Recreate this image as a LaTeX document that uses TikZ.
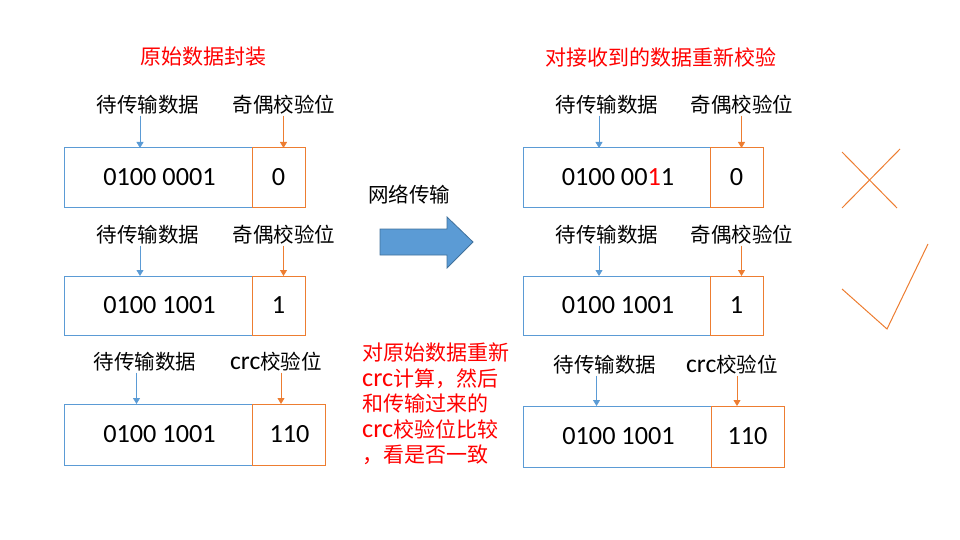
\documentclass[tikz,border=0pt]{standalone}
\usepackage{fontspec}
\setmainfont{Carlito}[Scale=1.25]
\newfontfamily\zh{Noto Sans CJK SC}
\usetikzlibrary{arrows.meta, positioning, calc}
\definecolor{ofBlue}{HTML}{5B9BD5}
\definecolor{ofOrange}{HTML}{ED7D31}
\definecolor{ofEdge}{HTML}{41719C}
\newcommand{\lat}[1]{{\rmfamily #1}}

\begin{document}
\begin{tikzpicture}[
  x=1pt, y=-1pt,
  datbox/.style={draw=ofBlue, line width=1pt, outer sep=0pt, inner sep=0pt,
                 minimum width=188pt, minimum height=59pt, font=\fontsize{21}{25}\selectfont},
  parbox/.style={draw=ofOrange, line width=1pt, outer sep=0pt, inner sep=0pt,
                 minimum width=53pt, minimum height=59pt, font=\fontsize{21}{25}\selectfont},
  crcbox/.style={parbox, minimum width=73pt, minimum height=61pt},
  lbl/.style={font=\zh\fontsize{20.5}{24}\selectfont, inner sep=1pt},
  ttl/.style={font=\zh\fontsize{21}{25}\selectfont, text=red},
  note/.style={font=\zh\fontsize{21}{25.5}\selectfont, text=red, align=left, inner sep=0pt},
  arrb/.style={-{Triangle[length=6pt,width=7pt]}, draw=ofBlue, line width=0.8pt},
  arro/.style={-{Triangle[length=6pt,width=7pt]}, draw=ofOrange, line width=0.8pt},
  tick/.style={draw=ofOrange, line width=1pt},
]
\useasboundingbox (0,0) rectangle (960,540);

% ---- titles ----
\node[ttl] (ltitle) at (203,57) {原始数据封装};
\node[ttl] (rtitle) at (661,57) {对接收到的数据重新校验};

% ---- left: packed data ----
\node[datbox, anchor=north west] (ld1) at (64,148) {\hspace{3pt}0100 0001};
\node[parbox, right=0pt of ld1] (lp1) {0};
\node[datbox, anchor=north west] (ld2) at (64,276) {\hspace{3pt}0100 1001};
\node[parbox, right=0pt of ld2] (lp2) {1};
\node[datbox, anchor=north west, minimum height=61pt] (ld3) at (64,404) {\hspace{3pt}0100 1001};
\node[crcbox, right=0pt of ld3] (lp3) {\hspace{2pt}110};

\node[lbl] (ldl1) at (148,105) {待传输数据};
\node[lbl] (lpl1) at (284,105) {奇偶校验位};
\node[lbl] (ldl2) at (148,235) {待传输数据};
\node[lbl] (lpl2) at (284,235) {奇偶校验位};
\node[lbl] (ldl3) at (145,362) {待传输数据};
\node[lbl] (lpl3) at (276,362) {\lat{crc}校验位};

% ---- right: received data ----
\node[datbox, anchor=north west, minimum width=187pt] (rd1) at (523,148) {\hspace{3pt}0100 00\textcolor{red}{1}1};
\node[parbox, right=0pt of rd1] (rp1) {0};
\node[datbox, anchor=north west, minimum width=187pt] (rd2) at (523,276) {\hspace{3pt}0100 1001};
\node[parbox, right=0pt of rd2] (rp2) {1};
\node[datbox, anchor=north west, minimum height=61pt] (rd3) at (523,406) {\hspace{3pt}0100 1001};
\node[crcbox, right=0pt of rd3] (rp3) {110};

\node[lbl] (rdl1) at (607,105) {待传输数据};
\node[lbl] (rpl1) at (742,105) {奇偶校验位};
\node[lbl] (rdl2) at (607,235) {待传输数据};
\node[lbl] (rpl2) at (742,235) {奇偶校验位};
\node[lbl] (rdl3) at (605,365) {待传输数据};
\node[lbl] (rpl3) at (732,365) {\lat{crc}校验位};

% ---- arrows from labels ----
\foreach \d/\b in {ldl1/ld1, ldl2/ld2, rdl1/rd1, rdl2/rd2}
  \draw[arrb] ([xshift=-8pt]\d.south) -- ([xshift=-8pt]\d.south |- \b.north);
\foreach \d/\b in {ldl3/ld3, rdl3/rd3}
  \draw[arrb] ([xshift=-8.5pt]\d.south) -- ([xshift=-8.5pt]\d.south |- \b.north);
\foreach \p/\b in {lpl1/lp1, lpl2/lp2, rpl1/rp1, rpl2/rp2}
  \draw[arro] ([xshift=-0.5pt]\p.south) -- ([xshift=-0.5pt]\p.south |- \b.north);
\foreach \p/\b in {lpl3/lp3, rpl3/rp3}
  \draw[arro] ([xshift=5pt]\p.south) -- ([xshift=5pt]\p.south |- \b.north);

% ---- transfer ----
\node[lbl] (net) at (409,195) {网络传输};
\draw[fill=ofBlue, draw=ofEdge, line width=0.8pt]
  (380,229) -- (447,229) -- (447,217) -- (473,242) -- (447,268) -- (447,255) -- (380,255) -- cycle;

\node[note, anchor=north west] (recheck) at (362,343)
  {对原始数据重新\\\lat{crc}计算，然后\\和传输过来的\\\lat{crc}校验位比较\\，看是否一致};

% ---- cross and check ----
\draw[tick] (842,152) -- (897,208);
\draw[tick] (900,149) -- (842,208);
\draw[tick] (842,289) -- (887,329) -- (928,244);
\end{tikzpicture}
\end{document}
